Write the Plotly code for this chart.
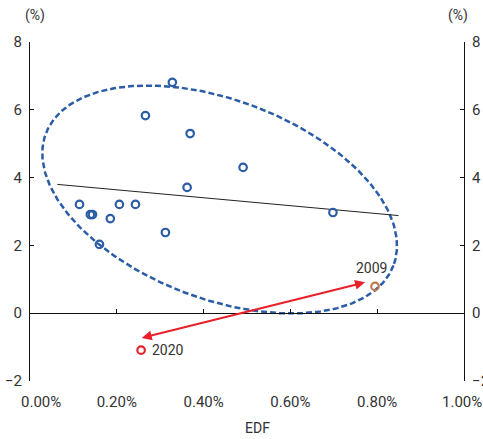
import numpy as np
import plotly.graph_objects as go

# ---- data (EDF in %, y in %) ----
edf = [0.114, 0.139, 0.144, 0.160, 0.185, 0.206, 0.243, 0.266, 0.312, 0.328, 0.362, 0.369, 0.491, 0.698]
val = [3.21, 2.91, 2.91, 2.03, 2.79, 3.21, 3.21, 5.83, 2.38, 6.81, 3.71, 5.30, 4.30, 2.97]
pt2009 = (0.795, 0.79)
pt2020 = (0.256, -1.09)
fit_x = [0.063, 0.849]
fit_y = [3.80, 2.88]
arrow_start = (0.254, -0.74)
arrow_end = (0.772, 0.91)
# ellipse: centre and conjugate half-axis vectors (data units)
ell_c = (0.437, 3.354)
ell_u = (0.4005, -1.945)
ell_v = (-0.0811, -2.742)

x_ticks = [0.0, 0.2, 0.4, 0.6, 0.8, 1.0]
x_ticktext = ["\u00a0" * 6 + "0.00%", "0.20%", "0.40%", "0.60%", "0.80%", "1.00%\u00a0"]
y_ticks = [-2, 0, 2, 4, 6, 8]

BLUE = "#2B5CA6"
RED = "#E8202A"
BROWN = "#C07A4C"
TXT = "#333333"
FONT = "Liberation Sans Narrow, Arial Narrow, Roboto, sans-serif"

t = np.linspace(0, 2 * np.pi, 361)
ex = ell_c[0] + ell_u[0] * np.cos(t) + ell_v[0] * np.sin(t)
ey = ell_c[1] + ell_u[1] * np.cos(t) + ell_v[1] * np.sin(t)

fig = go.Figure()
fig.add_trace(go.Scatter(x=ex, y=ey, mode="lines",
                         line=dict(color=BLUE, width=2.5, dash="6px,3px"),
                         hoverinfo="skip", showlegend=False))
fig.add_trace(go.Scatter(x=fit_x, y=fit_y, mode="lines",
                         line=dict(color="#222222", width=1), showlegend=False))
fig.add_trace(go.Scatter(x=edf, y=val, mode="markers",
                         marker=dict(symbol="circle-open", size=7.5, color=BLUE,
                                     line=dict(width=2.2, color=BLUE)),
                         showlegend=False))
fig.add_trace(go.Scatter(x=[pt2009[0]], y=[pt2009[1]], mode="markers",
                         marker=dict(symbol="circle-open", size=7.5, color=BROWN,
                                     line=dict(width=2.2, color=BROWN)),
                         showlegend=False))
fig.add_trace(go.Scatter(x=[pt2020[0]], y=[pt2020[1]], mode="markers",
                         marker=dict(symbol="circle-open", size=7.5, color=RED,
                                     line=dict(width=2.2, color=RED)),
                         showlegend=False))
# invisible trace for the zero-line axis
fig.add_trace(go.Scatter(x=[0, 1], y=[0, 0], xaxis="x2", mode="lines",
                         line=dict(width=0), opacity=0, hoverinfo="skip", showlegend=False))

fig.add_annotation(x=arrow_end[0], y=arrow_end[1], ax=arrow_start[0], ay=arrow_start[1],
                   xref="x", yref="y", axref="x", ayref="y", text="",
                   showarrow=True, arrowhead=2, startarrowhead=2, arrowside="end+start",
                   arrowsize=1, startarrowsize=1, arrowwidth=2, arrowcolor=RED)
fig.add_annotation(x=pt2009[0], y=pt2009[1], text="2009", showarrow=False,
                   xshift=-4, yshift=18, font=dict(family=FONT, size=14, color=TXT))
fig.add_annotation(x=pt2020[0], y=pt2020[1], text="2020", showarrow=False,
                   xanchor="left", xshift=9, font=dict(family=FONT, size=14, color=TXT))
fig.add_annotation(x=0, y=1, xref="paper", yref="paper", text="(%)", showarrow=False,
                   xanchor="center", yanchor="middle", xshift=5, yshift=27,
                   font=dict(family=FONT, size=14, color=TXT))
fig.add_annotation(x=1, y=1, xref="paper", yref="paper", text="(%)", showarrow=False,
                   xanchor="center", yanchor="middle", xshift=-6, yshift=27,
                   font=dict(family=FONT, size=14, color=TXT))
fig.add_annotation(x=0.525, y=0, xref="paper", yref="paper", text="EDF", showarrow=False,
                   yanchor="middle", yshift=-47,
                   font=dict(family=FONT, size=14, color=TXT))

axfont = dict(family=FONT, size=15, color=TXT)
fig.update_layout(
    width=483, height=439,
    margin=dict(l=30, r=19, t=42, b=58),
    paper_bgcolor="white", plot_bgcolor="white",
    xaxis=dict(range=[0, 1.0], tickvals=x_ticks, ticktext=x_ticktext, automargin=False,
               showline=False, showgrid=False, zeroline=False, ticks="",
               tickfont=axfont, ticklabelstandoff=10, ticklabeloverflow="allow"),
    xaxis2=dict(range=[0, 1.0], overlaying="x", anchor="free", position=0.2,
                tickvals=x_ticks[1:-1], showticklabels=False, showline=True, automargin=False,
                linecolor="#111111", linewidth=1.2, ticks="inside", ticklen=4,
                tickcolor="#111111", showgrid=False, zeroline=False),
    yaxis=dict(range=[-2, 8], tickvals=y_ticks, showline=True, linecolor="#111111",
               linewidth=1.2, ticks="inside", ticklen=4, tickcolor="#111111", automargin=False,
               showgrid=False, zeroline=False, tickfont=axfont, ticklabelstandoff=4,
               ticklabeloverflow="allow"),
    yaxis2=dict(range=[-2, 8], tickvals=y_ticks, overlaying="y", side="right",
                showline=True, linecolor="#111111", linewidth=1.2, ticks="inside",
                ticklen=4, tickcolor="#111111", showgrid=False, zeroline=False, automargin=False,
                tickfont=axfont, ticklabelstandoff=4, ticklabeloverflow="allow"),
)
fig.add_trace(go.Scatter(x=[None], y=[None], yaxis="y2", showlegend=False))

fig.write_html("out.html", config={"displayModeBar": False},
               post_script="document.body.style.margin='0';")
